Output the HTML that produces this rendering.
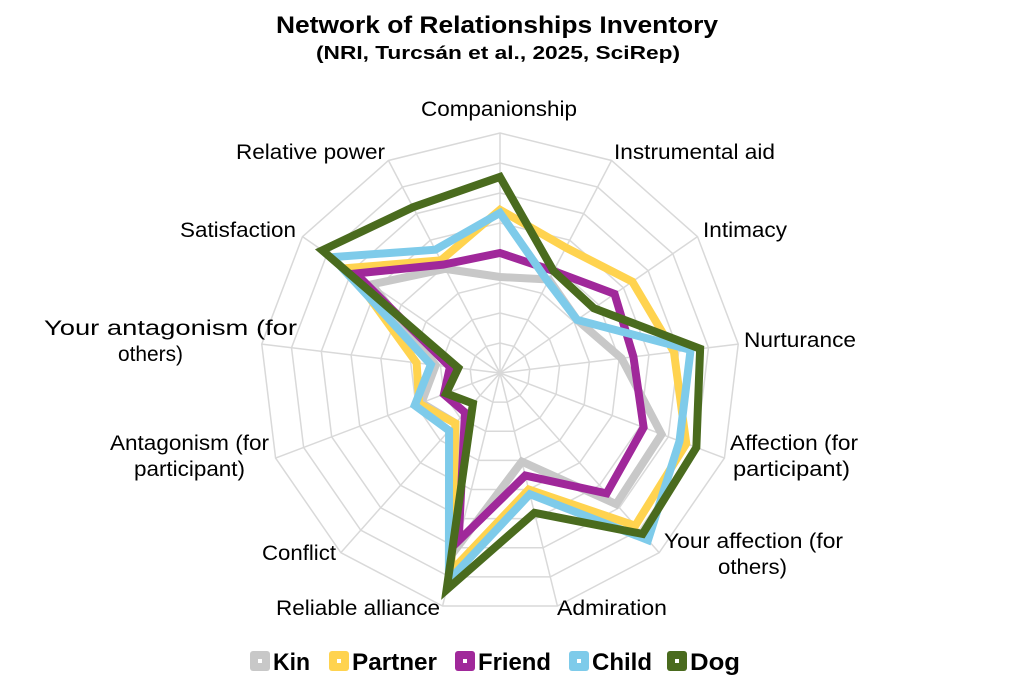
<!DOCTYPE html>
<html><head><meta charset="utf-8"><style>
html,body{margin:0;padding:0;background:#fff;}
svg{display:block;font-family:"Liberation Sans",Arial,sans-serif;}
</style></head><body>
<svg id="s" width="1024" height="694" viewBox="0 0 1024 694" xmlns="http://www.w3.org/2000/svg">
<rect width="1024" height="694" fill="#fff"/>
<g id="grid" stroke="#d9d9d9" stroke-width="1.5" fill="none"></g>
<g id="series" fill="none" stroke-linejoin="miter" stroke-width="8"></g>
<text x="497" y="33" text-anchor="middle" font-weight="bold" font-size="24" textLength="442" lengthAdjust="spacingAndGlyphs">Network of Relationships Inventory</text>
<text x="498" y="59" text-anchor="middle" font-weight="bold" font-size="18" textLength="364" lengthAdjust="spacingAndGlyphs">(NRI, Turcsán et al., 2025, SciRep)</text>
<g font-size="21" fill="#000">
<text x="421" y="116" textLength="156" lengthAdjust="spacingAndGlyphs">Companionship</text>
<text x="236" y="159" textLength="149" lengthAdjust="spacingAndGlyphs">Relative power</text>
<text x="614" y="159" textLength="161" lengthAdjust="spacingAndGlyphs">Instrumental aid</text>
<text x="180" y="237" textLength="116" lengthAdjust="spacingAndGlyphs">Satisfaction</text>
<text x="703" y="237" textLength="84" lengthAdjust="spacingAndGlyphs">Intimacy</text>
<text x="44" y="335" textLength="253" lengthAdjust="spacingAndGlyphs">Your antagonism (for</text>
<text x="118" y="361" textLength="65" lengthAdjust="spacingAndGlyphs">others)</text>
<text x="744" y="347" textLength="112" lengthAdjust="spacingAndGlyphs">Nurturance</text>
<text x="110" y="450" textLength="159" lengthAdjust="spacingAndGlyphs">Antagonism (for</text>
<text x="134" y="476" textLength="111" lengthAdjust="spacingAndGlyphs">participant)</text>
<text x="730" y="450" textLength="128" lengthAdjust="spacingAndGlyphs">Affection (for</text>
<text x="733" y="476" textLength="117" lengthAdjust="spacingAndGlyphs">participant)</text>
<text x="262" y="560" textLength="74" lengthAdjust="spacingAndGlyphs">Conflict</text>
<text x="664" y="548" textLength="179" lengthAdjust="spacingAndGlyphs">Your affection (for</text>
<text x="718" y="574" textLength="69" lengthAdjust="spacingAndGlyphs">others)</text>
<text x="276" y="615" textLength="164" lengthAdjust="spacingAndGlyphs">Reliable alliance</text>
<text x="557" y="615" textLength="110" lengthAdjust="spacingAndGlyphs">Admiration</text>
</g>
<g font-weight="bold" font-size="24">
<rect x="250" y="651" width="20" height="20" rx="3" fill="#c8c8c8"/><rect x="258" y="659" width="4" height="4" fill="#fff"/>
<text x="273" y="670" textLength="37" lengthAdjust="spacingAndGlyphs">Kin</text>
<rect x="329" y="651" width="20" height="20" rx="3" fill="#ffd34f"/><rect x="337" y="659" width="4" height="4" fill="#fff"/>
<text x="352" y="670" textLength="85" lengthAdjust="spacingAndGlyphs">Partner</text>
<rect x="455" y="651" width="20" height="20" rx="3" fill="#a0289a"/><rect x="463" y="659" width="4" height="4" fill="#fff"/>
<text x="478" y="670" textLength="73" lengthAdjust="spacingAndGlyphs">Friend</text>
<rect x="569" y="651" width="20" height="20" rx="3" fill="#7ecbea"/><rect x="577" y="659" width="4" height="4" fill="#fff"/>
<text x="592" y="670" textLength="60" lengthAdjust="spacingAndGlyphs">Child</text>
<rect x="667" y="651" width="20" height="20" rx="3" fill="#4a6b1e"/><rect x="675" y="659" width="4" height="4" fill="#fff"/>
<text x="690" y="670" textLength="50" lengthAdjust="spacingAndGlyphs">Dog</text>
</g>
</svg>
<script>
(function(){
var cx=500,cy=373,R=240,N=13,ns="http://www.w3.org/2000/svg";
function pt(i,f){var a=i*2*Math.PI/N;return [cx+R*f*Math.sin(a),cy-R*f*Math.cos(a)];}
var g=document.getElementById('grid');
for(var k=1;k<=8;k++){var p=[];for(var i=0;i<N;i++){p.push(pt(i,k/8).join(','));}
var e=document.createElementNS(ns,'polygon');e.setAttribute('points',p.join(' '));g.appendChild(e);}
for(var i=0;i<N;i++){var q=pt(i,1);var l=document.createElementNS(ns,'line');
l.setAttribute('x1',cx);l.setAttribute('y1',cy);l.setAttribute('x2',q[0]);l.setAttribute('y2',q[1]);g.appendChild(l);}
var S=[
['#c8c8c8',[0.40,0.44,0.39,0.51,0.72,0.73,0.38,0.75,0.28,0.35,0.27,0.65,0.49]],
['#ffd34f',[0.68,0.59,0.67,0.73,0.83,0.85,0.50,0.85,0.28,0.36,0.35,0.77,0.53]],
['#a0289a',[0.50,0.48,0.58,0.56,0.64,0.67,0.44,0.72,0.22,0.25,0.21,0.73,0.51]],
['#7ecbea',[0.667,0.43,0.39,0.80,0.80,0.93,0.52,0.89,0.32,0.38,0.29,0.85,0.58]],
['#4a6b1e',[0.817,0.48,0.475,0.84,0.875,0.896,0.60,0.93,0.17,0.24,0.175,0.90,0.78]]];
var sg=document.getElementById('series');
S.forEach(function(s){var p=[];for(var i=0;i<N;i++)p.push(pt(i,s[1][i]).join(','));
var e=document.createElementNS(ns,'polygon');e.setAttribute('points',p.join(' '));e.setAttribute('stroke',s[0]);sg.appendChild(e);});
})();
</script>
</body></html>
